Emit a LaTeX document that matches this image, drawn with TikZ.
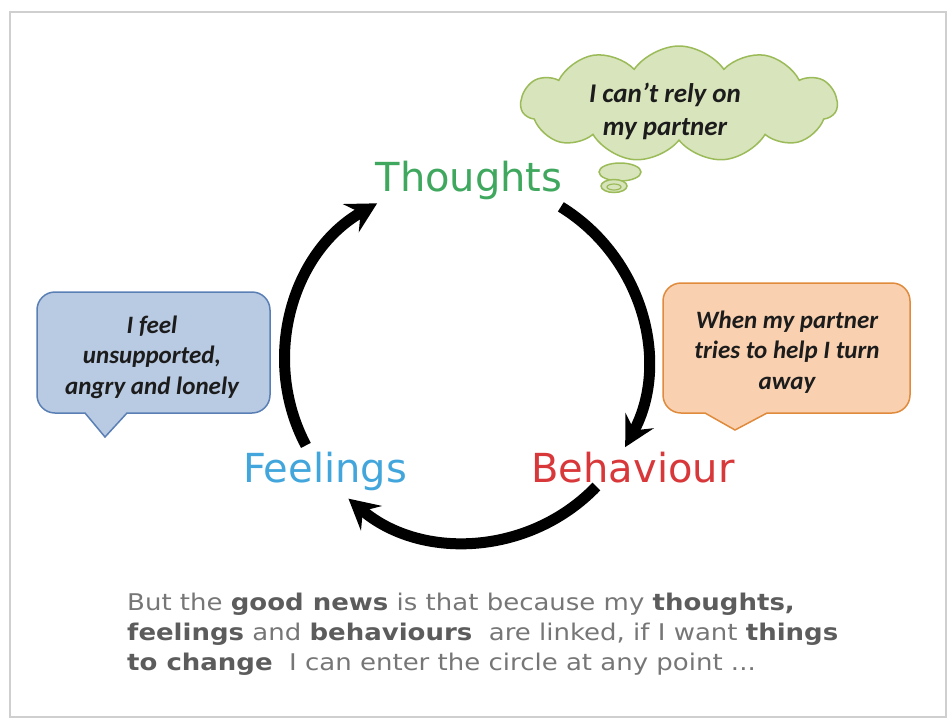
\documentclass[tikz,border=0pt]{standalone}
\usepackage{fontspec}
\setmainfont{DejaVu Sans}
\newfontfamily\cfont{Carlito}
\newfontfamily\gfont[FakeStretch=1.13]{DejaVu Sans}
\usetikzlibrary{arrows.meta,shapes.symbols}
\definecolor{frameg}{HTML}{CFCFCF}
\definecolor{tgreen}{HTML}{3FA85E}
\definecolor{fblue}{HTML}{42A6DC}
\definecolor{bred}{HTML}{D8383A}
\definecolor{bfill}{HTML}{B9CAE3}
\definecolor{bbord}{HTML}{5A7FB5}
\definecolor{ofill}{HTML}{F9D1B1}
\definecolor{obord}{HTML}{E08A3C}
\definecolor{cfill}{HTML}{D8E4BC}
\definecolor{cbord}{HTML}{9BBB59}
\definecolor{txt}{HTML}{1C1C1C}
\definecolor{gtxt}{HTML}{767676}
\definecolor{gbold}{HTML}{5C5C5C}
\begin{document}
\begin{tikzpicture}[x=1pt,y=-1pt,
  cyc/.style={line width=11pt, -{Stealth[length=30pt,width=32pt,inset=11pt]}},
  lbl/.style={font=\fontsize{40}{48}\selectfont, anchor=base, inner sep=0pt},
  say/.style={font=\cfont\bfseries\itshape\fontsize{25}{30.5}\selectfont, align=center, text=txt, inner sep=0pt},
  gline/.style={font=\gfont\fontsize{23}{30}\selectfont, text=gtxt, anchor=base west, inner sep=0pt},
  callout/.style={line width=1.5pt},
]
\useasboundingbox (0,0) rectangle (952,724);
\node[draw=frameg, line width=2pt, minimum width=936pt, minimum height=705pt, inner sep=0pt, anchor=north west] (frame) at (9,11) {};

% cycle arrows
\coordinate (c) at (466,361);
\coordinate (a1) at ([shift={(-58.4:181)}]c);
\coordinate (a2) at ([shift={(43.9:181)}]c);
\coordinate (a3) at ([shift={(152.2:181)}]c);
\draw[cyc] (a1) arc[start angle=-58.4, end angle=28.4, radius=181];
\draw[cyc] (a2) arc[start angle=43.9, end angle=130.5, radius=181];
\draw[cyc] (a3) arc[start angle=152.2, end angle=240.6, radius=181];

% labels
\node[lbl, text=tgreen] (th) at (469,191) {Thoughts};
\node[lbl, text=fblue] (fe) at (325,482) {Feelings};
\node[lbl, text=bred] (be) at (633,482) {Behaviour};

% blue callout
\draw[callout, draw=bbord, fill=bfill] (85,413) -- (105,437) -- (127,413) [rounded corners=18pt] -- (270,413) -- (270,292) -- (37,292) -- (37,413) [sharp corners] -- cycle;
\node[say] (bt) at (152,357) {I feel\\unsupported,\\angry and lonely};

% orange callout
\draw[callout, draw=obord, fill=ofill] (705,413) -- (735,430) -- (767,413) [rounded corners=18pt] -- (910,413) -- (910,283) -- (663,283) -- (663,413) [sharp corners] -- cycle;
\node[say] (ot) at (787,352) {When my partner\\tries to help I turn\\away};

% thought cloud
\node[cloud, cloud puffs=11, cloud puff arc=110, aspect=2.7, draw=cbord, fill=cfill, line width=1.5pt, minimum width=316pt, minimum height=116pt, inner sep=0pt] (cl) at (679,104) {};
\draw[callout, draw=cbord, fill=cfill] (620,172) ellipse [x radius=21, y radius=9];
\draw[callout, draw=cbord, fill=cfill] (614,186) ellipse [x radius=13, y radius=6.5];
\draw[line width=1.2pt, draw=cbord] (614,187) ellipse [x radius=7, y radius=3];
\node[say, font=\cfont\bfseries\itshape\fontsize{27}{33}\selectfont] (ct) at (665,111) {I can’t rely on\\my partner};

% bottom text
\node[gline] (g1) at (127,610) {But the \textcolor{gbold}{\bfseries good news} is that because my \textcolor{gbold}{\bfseries thoughts,}};
\node[gline] (g2) at (127,640) {\textcolor{gbold}{\bfseries feelings} and \textcolor{gbold}{\bfseries behaviours}\ \ are linked, if I want \textcolor{gbold}{\bfseries things}};
\node[gline] (g3) at (127,670) {\textcolor{gbold}{\bfseries to change}\ \ I can enter the circle at any point ...};
\end{tikzpicture}
\end{document}
